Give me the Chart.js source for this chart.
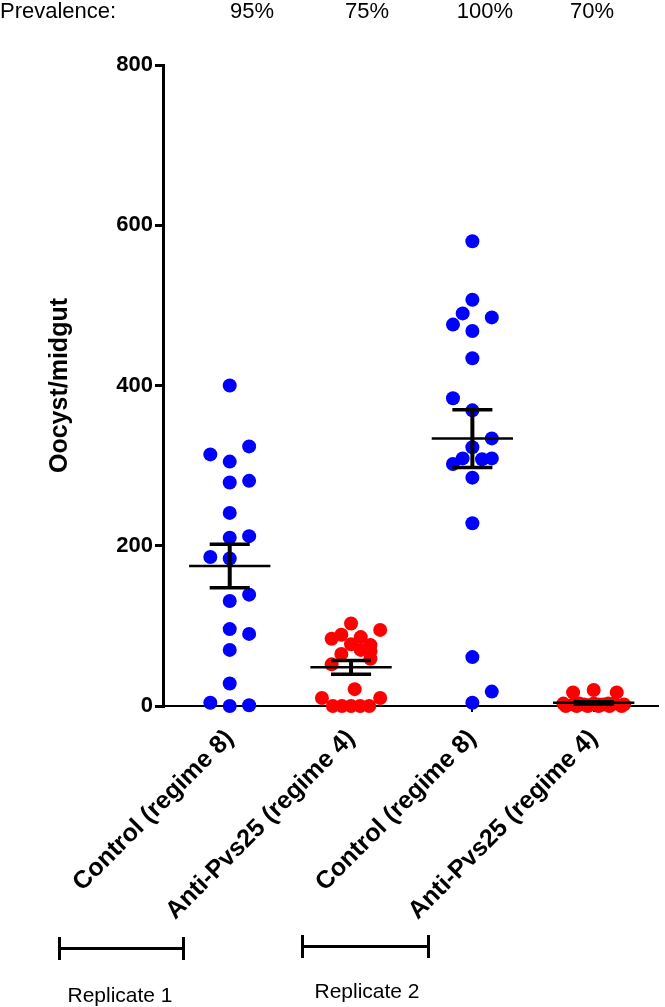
<!DOCTYPE html>
<html>
<head>
<meta charset="utf-8">
<title>Oocyst/midgut</title>
<script src="https://cdn.jsdelivr.net/npm/chart.js@4.4.1/dist/chart.umd.min.js"></script>
<style>
  html, body { margin: 0; padding: 0; background: #fff; }
  #wrap {
    position: relative; width: 665px; height: 1007px; overflow: hidden;
    font-family: "Liberation Sans", Arial, sans-serif; color: #000;
  }
  #chart { position: absolute; left: 0; top: 0; }
  .note { position: absolute; white-space: nowrap; line-height: 1; }
  .prev { top: 0; font-size: 22px; }
  .center { transform: translateX(-50%); }
  .bracket { position: absolute; height: 3px; background: #000; }
  .bracket::before, .bracket::after {
    content: ''; position: absolute; top: -10px; width: 3px; height: 23px; background: #000;
  }
  .bracket::before { left: 0; }
  .bracket::after { right: 0; }
  .rep { font-size: 21px; }
</style>
</head>
<body>
<div id="wrap">
  <canvas id="chart" width="665" height="1007"></canvas>
</div>
<script>
// ── Data ─────────────────────────────────────────────────────
const categories = ['Control (regime 8)', 'Anti-Pvs25 (regime 4)', 'Control (regime 8)', 'Anti-Pvs25 (regime 4)'];
const prevalence = ['95%', '75%', '100%', '70%'];
const yTicks     = [0, 200, 400, 600, 800];
const replicates = ['Replicate 1', 'Replicate 2'];

// oocysts per midgut, one value per mosquito
const ctrl1Values = [400, 324, 314, 305, 281, 279, 241, 212, 210, 186, 184, 139, 131, 96, 90, 70, 28, 4, 0, 1];
const anti1Values = [103, 95, 89, 86, 84, 77, 76, 70, 68, 65, 59, 52, 21, 10, 10, 0, 0, 0, 0, 0];
const ctrl2Values = [580, 507, 490, 485, 476, 468, 434, 384, 369, 334, 323, 309, 308, 309, 302, 285, 228, 61, 18, 4];
const anti2Values = [17, 20, 17, 3, 2, 2, 3, 2, 3, 2, 3, 1, 2, 3, 0, 0, 0, 0, 0, 0];

// horizontal scatter of each dot around its group (x units)
const ctrl1Jitter = [0, .16, -.16, 0, .16, 0, 0, .16, 0, -.16, 0, .16, 0, 0, .16, 0, 0, -.16, 0, .16];
const anti1Jitter = [0, .24, -.08, .08, -.16, 0, .16, .08, .16, -.08, .16, -.16, .03, -.24, .24, -.15, -.075, 0, .075, .15];
const ctrl2Jitter = [0, 0, -.08, .16, -.16, 0, 0, -.16, 0, .16, 0, -.08, .08, .16, -.16, 0, 0, 0, .16, 0];
const anti2Jitter = [-.17, 0, .19, -.25, -.17, -.08, 0, .08, .17, .25, -.12, -.04, .04, .12, -.23, -.14, -.05, .04, .13, .23];

// ── Layout bits ─────────────────────────────────────────────
const FONT = "'Liberation Sans', Arial, sans-serif";
const prevX = [252, 367, 485, 592];
const repBrackets = [
  { left: 58,  width: 127, top: 947, label: 120, labelTop: 984 },
  { left: 301, width: 129, top: 945, label: 367, labelTop: 980 }
];

const groups  = [ctrl1Values, anti1Values, ctrl2Values, anti2Values];
const jitters = [ctrl1Jitter, anti1Jitter, ctrl2Jitter, anti2Jitter];
const colors  = ['#0000ff', '#ff0000', '#0000ff', '#ff0000'];

const mean = a => a.reduce((s, v) => s + v, 0) / a.length;
const sem  = a => {
  const m = mean(a);
  const sd = Math.sqrt(a.reduce((s, v) => s + (v - m) ** 2, 0) / (a.length - 1));
  return sd / Math.sqrt(a.length);
};

// ── Datasets: dots + mean ± SEM ─────────────────────────────
const datasets = [];
groups.forEach((vals, i) => {
  const g = i + 1;
  const m = mean(vals), s = sem(vals);
  const line = { type: 'line', borderColor: '#000', pointRadius: 0, fill: false, tension: 0, order: 0, clip: false };

  datasets.push({ ...line, borderWidth: 2.5,
    data: [{ x: g - 0.335, y: m }, { x: g + 0.335, y: m }] });
  datasets.push({ ...line, borderWidth: 3.5,
    data: [{ x: g - 0.165, y: m + s }, { x: g + 0.165, y: m + s }, { x: g, y: null },
           { x: g - 0.165, y: m - s }, { x: g + 0.165, y: m - s }] });
  datasets.push({ ...line, borderWidth: 4,
    data: [{ x: g, y: m - s }, { x: g, y: m + s }] });
  datasets.push({
    type: 'scatter', order: 1, clip: false,
    data: vals.map((v, k) => ({ x: g + jitters[i][k], y: v })),
    backgroundColor: colors[i], borderColor: colors[i], borderWidth: 0,
    pointRadius: 7, pointHoverRadius: 7
  });
});

Chart.defaults.font.family = FONT;
Chart.defaults.color = '#000';

new Chart(document.getElementById('chart'), {
  type: 'scatter',
  data: { datasets },
  options: {
    responsive: false,
    animation: false,
    layout: { padding: { top: 65, left: 0, right: 0, bottom: 0 } },
    plugins: { legend: { display: false }, tooltip: { enabled: false } },
    scales: {
      x: {
        type: 'linear', min: 0.45, max: 4.53,
        afterBuildTicks: s => { s.ticks = categories.map((c, i) => ({ value: i + 1 })); },
        afterFit: s => { s.height = 301; s.paddingLeft = 0; s.paddingRight = 0; },
        ticks: {
          autoSkip: false, minRotation: 45, maxRotation: 45, padding: 12, color: '#000',
          font: { size: 25, weight: 'bold' },
          callback: v => categories[v - 1] || ''
        },
        grid: { drawOnChartArea: false, drawTicks: true, tickLength: 6, color: '#000', lineWidth: 2 },
        border: { color: '#000', width: 2 }
      },
      y: {
        min: 0, max: 800,
        afterBuildTicks: s => { s.ticks = yTicks.map(v => ({ value: v })); },
        afterFit: s => { s.width = 163; },
        ticks: { color: '#000', padding: 2, font: { size: 22, weight: 'bold' } },
        grid: { drawOnChartArea: false, drawTicks: true, tickLength: 8, color: '#000', lineWidth: 3 },
        border: { color: '#000', width: 3 },
        title: {
          display: true, text: 'Oocyst/midgut', color: '#000',
          font: { size: 25, weight: 'bold' }, padding: { top: 45, bottom: 0 }
        }
      }
    }
  }
});

// ── Annotations outside the plot ────────────────────────────
const wrap = document.getElementById('wrap');
function addNote(text, cls, left, top) {
  const el = document.createElement('div');
  el.className = 'note ' + cls;
  el.textContent = text;
  el.style.left = left + 'px';
  if (top !== undefined) el.style.top = top + 'px';
  wrap.appendChild(el);
  return el;
}

addNote('Prevalence:', 'prev', 0);
prevalence.forEach((p, i) => addNote(p, 'prev center', prevX[i]));

repBrackets.forEach((b, i) => {
  const bar = document.createElement('div');
  bar.className = 'bracket';
  bar.style.left = b.left + 'px';
  bar.style.top = b.top + 'px';
  bar.style.width = b.width + 'px';
  wrap.appendChild(bar);
  addNote(replicates[i], 'rep center', b.label, b.labelTop);
});
</script>
</body>
</html>
